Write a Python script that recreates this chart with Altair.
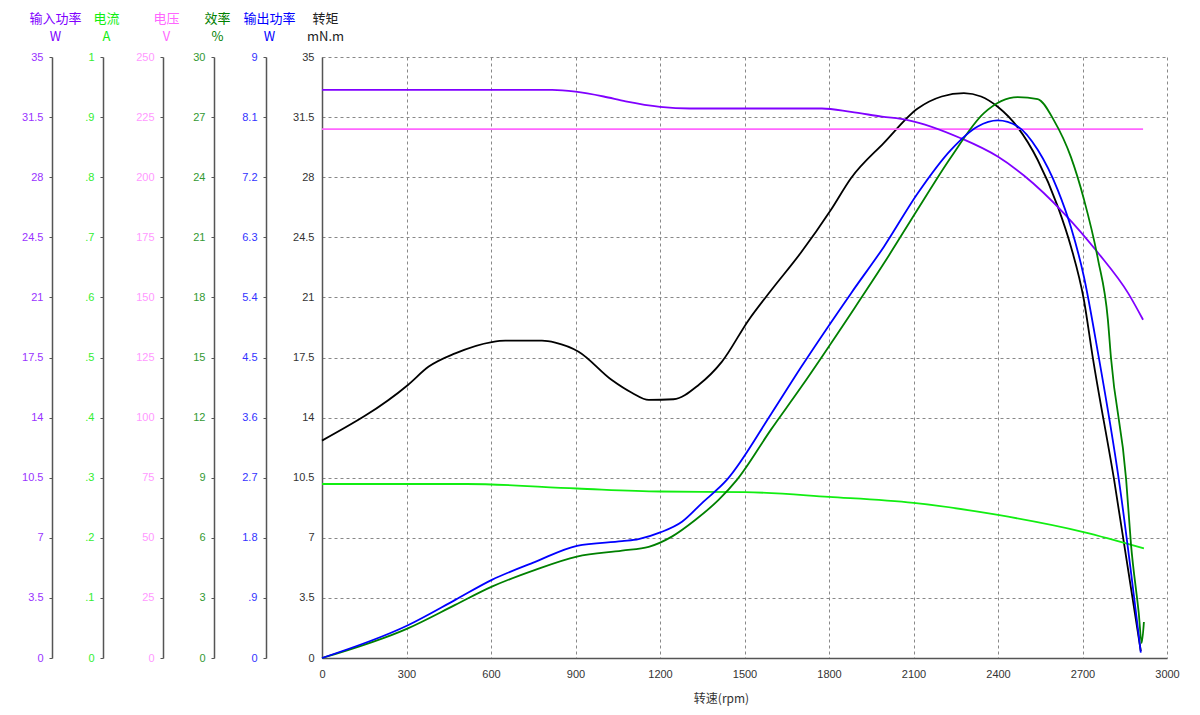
import altair as alt
import pandas as pd

# ---------------- data ----------------
rpm_input = [0, 817, 900, 1000, 1078, 1200, 1306, 1775, 1878, 1988, 2079, 2268, 2399, 2492, 2634, 2755, 2862, 2915]
input_power_w = [33.08, 33.08, 32.98, 32.7, 32.42, 32.1, 32.0, 32.0, 31.8, 31.53, 31.33, 30.27, 29.2, 28.1, 25.9, 23.6, 21.25, 19.7]

rpm_current = [0, 513, 905, 1200, 1500, 1800, 2100, 2400, 2700, 2918]
current_a = [0.2895, 0.2895, 0.282, 0.277, 0.276, 0.268, 0.258, 0.238, 0.210, 0.1825]

rpm_voltage = [0, 2915]
voltage_v = [220, 220]

rpm_eff = [0, 305, 473, 603, 757, 905, 1065, 1160, 1242, 1325, 1408, 1473, 1594, 1700, 1878, 1995, 2115,
           2233, 2350, 2470, 2541, 2600, 2659, 2705, 2755, 2790, 2801, 2855, 2872, 2900, 2910, 2918]
efficiency_pct = [0, 1.48, 2.65, 3.56, 4.40, 5.06, 5.36, 5.55, 6.06, 6.89, 7.89, 8.89, 11.4, 13.5, 17.2, 19.7, 22.4,
                  25.0, 27.2, 28.0, 27.9, 26.8, 25.0, 22.9, 19.9, 16.9, 15.0, 8.9, 5.7, 2.2, 0.75, 1.8]

rpm_out = [0, 305, 473, 603, 757, 905, 1065, 1124, 1201, 1278, 1349, 1438, 1594, 1700, 1878, 1995, 2115,
           2233, 2328, 2399, 2470, 2541, 2612, 2659, 2705, 2755, 2829, 2907]
output_power_w = [0, 0.49, 0.87, 1.17, 1.44, 1.68, 1.75, 1.78, 1.88, 2.04, 2.32, 2.67, 3.65, 4.35, 5.46, 6.16, 6.96,
                  7.61, 7.96, 8.05, 7.96, 7.61, 7.01, 6.45, 5.71, 4.57, 2.67, 0.08]

rpm_torque = [0, 305, 379, 473, 603, 651, 781, 828, 911, 1029, 1100, 1160, 1248, 1337, 1420, 1515, 1594, 1700,
              1807, 1878, 1995, 2115, 2200, 2279, 2340, 2399, 2470, 2541, 2612, 2659, 2705, 2736, 2812, 2907]
torque_mnm = [12.66, 15.9, 16.97, 17.74, 18.4, 18.48, 18.48, 18.37, 17.84, 16.19, 15.45, 15.03, 15.07, 15.9, 17.26,
              19.69, 21.4, 23.6, 26.1, 27.94, 30.0, 32.0, 32.7, 32.9, 32.7, 32.1, 30.9, 29.0, 26.3, 23.95, 20.85,
              17.55, 10.4, 0.4]

x_ticks = [0, 300, 600, 900, 1200, 1500, 1800, 2100, 2400, 2700, 3000]
ticks_35 = [0, 3.5, 7, 10.5, 14, 17.5, 21, 24.5, 28, 31.5, 35]
ticks_current = [0, 0.1, 0.2, 0.3, 0.4, 0.5, 0.6, 0.7, 0.8, 0.9, 1]
ticks_voltage = [0, 25, 50, 75, 100, 125, 150, 175, 200, 225, 250]
ticks_eff = [0, 3, 6, 9, 12, 15, 18, 21, 24, 27, 30]
ticks_out = [0, 0.9, 1.8, 2.7, 3.6, 4.5, 5.4, 6.3, 7.2, 8.1, 9]

LABEL_FONT = "Liberation Sans"
CJK_FONT = "Noto Sans CJK SC"

x_enc = alt.X(
    "rpm:Q",
    scale=alt.Scale(domain=[0, 3000], nice=False, zero=False),
    axis=alt.Axis(
        values=x_ticks, format="d", title="转速(rpm)", grid=True, gridDash=[3, 3], gridColor="#888888",
        gridWidth=1, ticks=False, labelPadding=10, labelFont=LABEL_FONT, labelFontSize=11,
        labelColor="#333333", domainColor="#555555", domainWidth=1.5, titleFont=CJK_FONT,
        titleFontSize=12, titleFontWeight="normal", titleColor="#333333", titleX=399, titleY=40,
        titleAlign="center", titleBaseline="middle", labelFlush=False,
    ),
)

# labels like ".1" / ".9" (no leading zero), otherwise shortest form ("31.5", "10.5", "35")
short_dec = ("datum.value > 0 && datum.value < 1 ? substring(format(datum.value, '.1f'), 1)"
             " : format(datum.value, '~g')")
plain = "format(datum.value, '~g')"


def series(rpm, values, name, unit, color, label_color, domain, ticks, offset, main=False, expr=plain):
    df = pd.DataFrame({"rpm": rpm, "v": values})
    axis_kwargs = dict(
        orient="left", offset=offset, values=ticks, title=[name, unit], titleAngle=0,
        titleAlign="center", titleBaseline="top", titleX=3, titleY=-45, titleFont=CJK_FONT,
        titleFontSize=13, titleFontWeight="normal", titleColor=color if color != "#000000" else "#222222",
        titleLineHeight=18, labelFont=LABEL_FONT, labelFontSize=11, labelColor=label_color,
        domainColor="#555555", domainWidth=1.5, tickColor="#555555", tickSize=3, labelPadding=6,
        grid=main, labelExpr=expr,
    )
    if main:
        axis_kwargs.update(gridDash=[3, 3], gridColor="#888888", gridWidth=1, ticks=False, labelPadding=8)
    return alt.Chart(df).mark_line(color=color, strokeWidth=1.8, interpolate="monotone").encode(
        x=x_enc,
        y=alt.Y("v:Q", scale=alt.Scale(domain=domain, nice=False, zero=False), axis=alt.Axis(**axis_kwargs)),
    )


torque = series(rpm_torque, torque_mnm, "转矩", "mN.m", "#000000", "#333333", [0, 35], ticks_35, 0, main=True)
outp = series(rpm_out, output_power_w, "输出功率", "W", "#0000ff", "#3333ff", [0, 9], ticks_out, 56, expr=short_dec)
eff = series(rpm_eff, efficiency_pct, "效率", "%", "#008000", "#339933", [0, 30], ticks_eff, 108)
volt = series(rpm_voltage, voltage_v, "电压", "V", "#ff66ff", "#ff99ff", [0, 250], ticks_voltage, 159)
curr = series(rpm_current, current_a, "电流", "A", "#11ee11", "#33ee33", [0, 1], ticks_current, 219, expr=short_dec)
inp = series(rpm_input, input_power_w, "输入功率", "W", "#8000ff", "#9933ff", [0, 35], ticks_35, 270)

chart = (
    alt.layer(torque, volt, inp, curr, eff, outp)
    .resolve_scale(y="independent")
    .properties(
        width=845, height=601,
        padding={"left": 322, "top": 57, "right": 33, "bottom": 57},
        autosize=alt.AutoSizeParams(type="none"),
        background="#ffffff",
    )
    .configure_view(strokeWidth=0)
)

chart.save("out.html", embed_options={"renderer": "svg", "actions": False})
